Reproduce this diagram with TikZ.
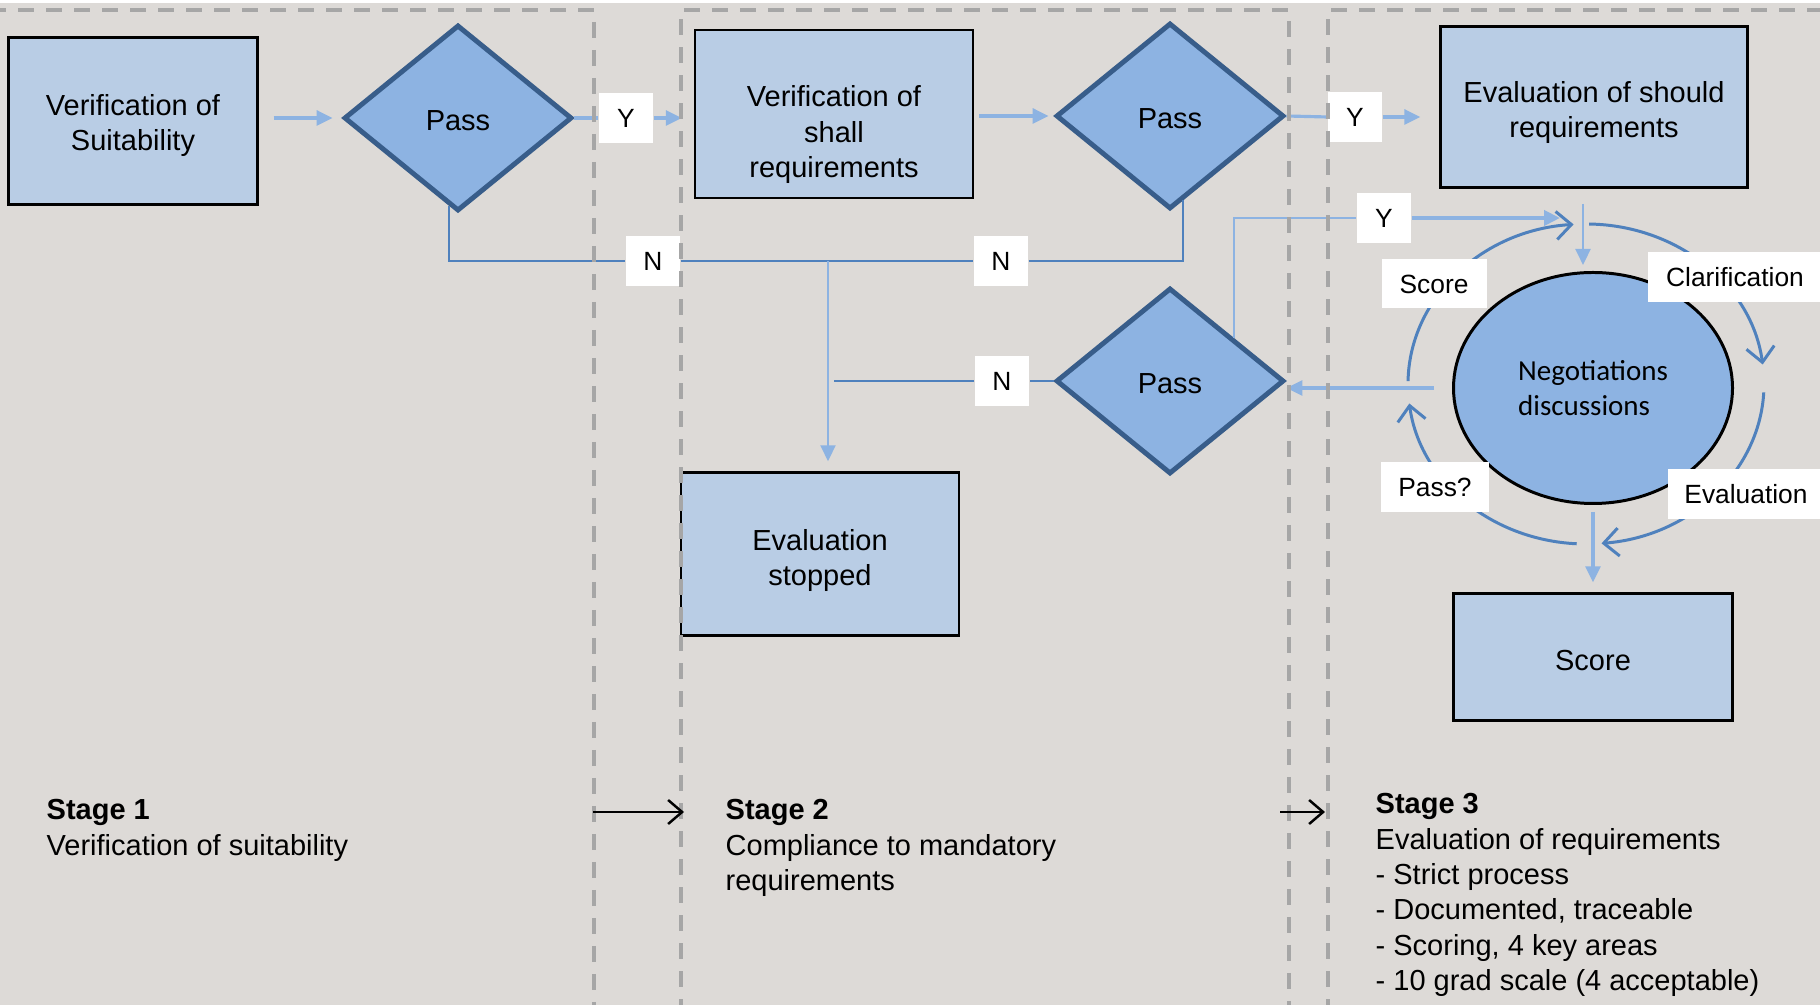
\documentclass[tikz,border=0pt]{standalone}
\usepackage{fontspec}
\setmainfont{Liberation Sans}
\newfontfamily\carlito{Carlito}
\usetikzlibrary{shapes.geometric,arrows.meta}

\definecolor{paper}{RGB}{221,218,215}
\definecolor{boxblue}{HTML}{B9CDE5}
\definecolor{passblue}{HTML}{8DB3E2}
\definecolor{passedge}{HTML}{385D8A}
\definecolor{lineblue}{HTML}{4F81BD}
\definecolor{dashgray}{HTML}{A6A6A6}

\newcommand{\flowfont}{\fontsize{8.25pt}{10.05pt}\selectfont}
\newcommand{\cyclefont}{\fontsize{7.5pt}{9pt}\selectfont}

\begin{document}
\begin{tikzpicture}
    [
      x=.1mm, y=-.1mm,
      every node/.style={font=\flowfont},
      box/.style={draw=black, line width=.7pt, fill=boxblue, align=center, inner sep=0pt, text depth=0pt},
      pass/.style={diamond, draw=passedge, line width=1.4pt, fill=passblue, inner sep=0pt,
                   minimum width=22.8mm, minimum height=18.6mm, text height=2.46mm, text depth=0pt},
      tag/.style={fill=white, inner sep=0pt, font=\cyclefont, minimum width=5.4mm, minimum height=5mm},
      lightline/.style={draw=passblue, line width=.9pt},
      lightarrow/.style={lightline, -{Triangle[length=1.6mm,width=1.5mm]}},
      nline/.style={draw=lineblue, line width=.6pt},
      cyclearrow/.style={draw=lineblue, line width=.85pt, -{Straight Barb[length=1.5mm,width=2.8mm]}},
      stagearrow/.style={draw=black, line width=.7pt, -{Straight Barb[length=1.4mm,width=2.4mm]}},
      stageline/.style={draw=dashgray, line width=1pt, dash pattern=on 1.6mm off 1.2mm},
      stagetext/.style={anchor=north west, align=left, inner sep=0pt},
    ]
    % background
    \useasboundingbox (0,0) rectangle (1820,1005);
    \fill [white] (0,0) rectangle (1820,1005);
    \fill [paper] (0,3) rectangle (1820,1005);

    % boxes and decisions
    \node [box, minimum width=24.9mm, minimum height=16.7mm, text height=6mm] (suit) at (133,121) {Verification of\\Suitability};
    \node [pass] (pass1) at (458,118) {Pass};
    \node [box, minimum width=27.8mm, minimum height=16.8mm, text height=12.7mm] (shall) at (834,114) {Verification of\\shall\\requirements};
    \node [pass] (pass2) at (1170,116) {Pass};
    \node [box, minimum width=30.7mm, minimum height=16.1mm, text height=6.2mm] (should) at (1594,107) {Evaluation of should\\requirements};
    \node [box, minimum width=27.8mm, minimum height=16.3mm, text height=6.35mm] (stopped) at (820,554) {Evaluation\\stopped};
    \node [pass] (pass3) at (1170,381) {Pass};
    \node [ellipse, draw=black, line width=.85pt, fill=passblue, inner sep=0pt, align=left,
           minimum width=27.9mm, minimum height=23.1mm, font=\flowfont\carlito] (nego) at (1593,388) {Negotiations\\discussions};
    \node [box, minimum width=27.9mm, minimum height=12.7mm, text height=2.8mm] (score) at (1593,657) {Score};

    % Y / N tags
    \node [tag] (y1) at (626,118) {Y};
    \node [tag] (y2) at (1355,117) {Y};
    \node [tag] (y3) at (1384,218) {Y};
    \node [tag] (n1) at (653,261) {N};
    \node [tag] (n2) at (1001,261) {N};
    \node [tag] (n3) at (1002,381) {N};

    % yes path
    \draw [lightarrow, shorten <=1.5mm, shorten >=.9mm] (suit.east |- pass1.west) -- (pass1.west);
    \draw [lightline] (pass1.east) -- (y1.west);
    \draw [lightarrow, shorten >=1.2mm] (y1.east) -- (y1.east -| shall.west);
    \draw [lightarrow, shorten <=.5mm, shorten >=.5mm] (shall.east |- pass2.west) -- (pass2.west);
    \draw [lightline] (pass2.east) -- (y2.west);
    \draw [lightarrow, shorten >=1.9mm] (y2.east) -- (y2.east -| should.west);

    % no path
    \draw [nline] (pass1.-96) |- (n1.west);
    \draw [nline] (n1.east) -- (n2.west);
    \draw [nline] (n2.east) -| (pass2.-81);
    \coordinate (split) at (828,261);
    \draw [lightarrow, line width=.6pt, shorten >=1mm] (split) -- (split |- stopped.north);
    \coordinate (n3end) at (834,381);
    \draw [nline] (pass3.west) -- (n3.east);
    \draw [nline] (n3.west) -- (n3end);

    % negotiation loop
    \draw [lightline, line width=.6pt] (pass3.34) |- (y3.west);
    \coordinate (ytip) at (1560,218);
    \draw [lightarrow, line width=1.1pt] (y3.east) -- (ytip);
    \coordinate (intop) at (1583,204);
    \draw [lightarrow, line width=.6pt, shorten >=.6mm] (intop) -- (intop |- nego.north);
    \draw [lightarrow, shorten <=1.8mm] (nego.west) -- (nego.west -| pass3.east);
    \draw [lightarrow, shorten <=.7mm, shorten >=1mm] (nego.south) -- (score.north);

    \coordinate (cyc) at (1586,384);
    \foreach \a/\b in {179/94,89/7,-3/-85,-93/-173} {
      \draw [cyclearrow] ([shift={(\a:17.8mm and 16mm)}]cyc)
        arc [start angle=\a, end angle=\b, x radius=17.8mm, y radius=16mm];
    }
    \node [tag, minimum width=10.5mm, minimum height=4.9mm] (tscore) at (1434,284) {Score};
    \node [tag, minimum width=17.4mm] (tclar) at (1735,277) {Clarification};
    \node [tag, minimum width=10.8mm] (tpass) at (1435,487) {Pass?};
    \node [tag, minimum width=15.6mm] (teval) at (1746,494) {Evaluation};

    % stage columns
    \draw [stageline] (-10,10) -- (594,10) -- (594,1015);
    \draw [stageline] (681,1015) -- (681,10) -- (1289,10) -- (1289,1015);
    \draw [stageline] (1328,1015) -- (1328,10) -- (1830,10);

    % stage texts
    \node [stagetext] (stage1) at (46,799) {\textbf{Stage 1}\\Verification of suitability};
    \node [stagetext] (stage2) at (725,799) {\textbf{Stage 2}\\Compliance to mandatory\\requirements};
    \node [stagetext] (stage3) at (1375,793) {\textbf{Stage 3}\\Evaluation of requirements\\- Strict process\\- Documented, traceable\\- Scoring, 4 key areas\\- 10 grad scale (4 acceptable)};
    \coordinate (s1out) at (593,812);
    \coordinate (s2in) at (684,812);
    \coordinate (s2out) at (1280,812);
    \coordinate (s3in) at (1325,812);
    \draw [stagearrow] (s1out) -- (s2in);
    \draw [stagearrow] (s2out) -- (s3in);
\end{tikzpicture}
\end{document}
